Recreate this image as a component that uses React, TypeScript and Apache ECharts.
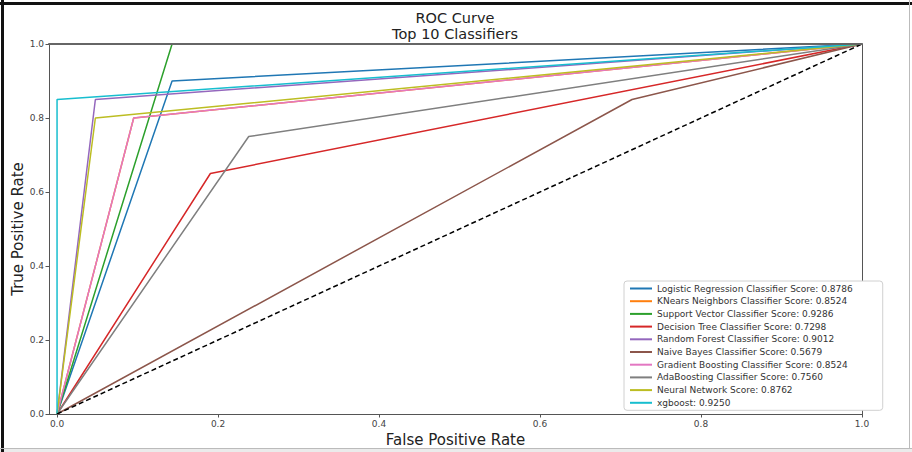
import React, { useEffect, useRef } from "react";
import * as echarts from "echarts";

const classifierNames = [
  "Logistic Regression Classifier Score: 0.8786",
  "KNears Neighbors Classifier Score: 0.8524",
  "Support Vector Classifier Score: 0.9286",
  "Decision Tree Classifier Score: 0.7298",
  "Random Forest Classifier Score: 0.9012",
  "Naive Bayes Classifier Score: 0.5679",
  "Gradient Boosting Classifier Score: 0.8524",
  "AdaBoosting Classifier Score: 0.7560",
  "Neural Network Score: 0.8762",
  "xgboost: 0.9250",
];

// False positive rates per classifier (ROC points)
const fprValues = [
  [0, 0.1429, 1],
  [0, 0.0952, 1],
  [0, 0.1429, 1],
  [0, 0.1905, 1],
  [0, 0.0476, 1],
  [0, 0.7143, 1],
  [0, 0.0952, 1],
  [0, 0.2381, 1],
  [0, 0.0476, 1],
  [0, 0.0, 1],
];

// True positive rates per classifier (ROC points)
const tprValues = [
  [0, 0.9, 1],
  [0, 0.8, 1],
  [0, 1.0, 1],
  [0, 0.65, 1],
  [0, 0.85, 1],
  [0, 0.85, 1],
  [0, 0.8, 1],
  [0, 0.75, 1],
  [0, 0.8, 1],
  [0, 0.85, 1],
];

const chanceX = [0, 1];
const chanceY = [0, 1];

const tickValues = [0, 0.2, 0.4, 0.6, 0.8, 1.0];

const titleLines = ["ROC Curve", "Top 10 Classifiers"];

const colors = [
  "#1f77b4",
  "#ff7f0e",
  "#2ca02c",
  "#d62728",
  "#9467bd",
  "#8c564b",
  "#e377c2",
  "#7f7f7f",
  "#bcbd22",
  "#17becf",
];

const FONT = "DejaVu Sans";
const SPINE = "#555";

export default function App() {
  const ref = useRef<HTMLDivElement>(null);

  useEffect(() => {
    if (!ref.current) return;
    const chart = echarts.init(ref.current, undefined, { renderer: "svg" });

    const series: any[] = classifierNames.map((name, i) => ({
      name,
      type: "line",
      data: fprValues[i].map((x, j) => [x, tprValues[i][j]]),
      showSymbol: false,
      symbol: "none",
      lineStyle: { color: colors[i], width: 1.5 },
      itemStyle: { color: colors[i] },
      z: 2 + i,
    }));
    series.push({
      name: "chance",
      type: "line",
      data: chanceX.map((x, j) => [x, chanceY[j]]),
      symbol: "none",
      lineStyle: { color: "#000", width: 1.5, type: [5, 3] },
      z: 20,
    });

    const labelStyle = {
      formatter: (v: number) => v.toFixed(1),
      fontFamily: FONT,
      fontSize: 9,
      color: "#444",
      margin: 5,
    };

    chart.setOption({
      animation: false,
      backgroundColor: "#fff",
      color: colors,
      title: titleLines.map((t, i) => ({
        text: t,
        left: 455,
        textAlign: "center",
        top: 10 + i * 16,
        textStyle: {
          fontFamily: FONT,
          fontSize: 14.5,
          lineHeight: 15,
          fontWeight: "normal",
          color: "#222",
        },
        padding: 0,
      })),
      grid: {
        left: 49,
        right: 50,
        top: 44,
        bottom: 38,
        show: false,
        containLabel: false,
        outerBoundsMode: "none",
      },
      legend: {
        data: classifierNames,
        orient: "vertical",
        left: 624,
        top: 281,
        width: 235,
        padding: [2, 30, 2, 6],
        itemGap: 1.7,
        itemWidth: 22,
        itemHeight: 2,
        icon: "rect",
        backgroundColor: "#fff",
        borderColor: "#d0d0d0",
        borderWidth: 1,
        borderRadius: 3,
        z: 60,
        textStyle: {
          fontFamily: FONT,
          fontSize: 9,
          lineHeight: 11,
          color: "#333",
        },
      },
      xAxis: [
        {
          type: "value",
          min: -0.01,
          max: 1,
          position: "bottom",
          z: 50,
          name: "False Positive Rate",
          nameLocation: "middle",
          nameGap: 15,
          nameTextStyle: { fontFamily: FONT, fontSize: 15, color: "#222" },
          axisLine: { show: true, onZero: false, lineStyle: { color: SPINE, width: 1 } },
          axisTick: {
            show: true,
            customValues: tickValues,
            length: 3.5,
            lineStyle: { color: SPINE },
          },
          axisLabel: { ...labelStyle, customValues: tickValues },
          splitLine: { show: false },
        },
        {
          type: "value",
          min: -0.01,
          max: 1,
          position: "top",
          z: 50,
          axisLine: { show: true, onZero: false, lineStyle: { color: "#666", width: 2 } },
          axisTick: { show: false },
          axisLabel: { show: false },
          splitLine: { show: false },
        },
      ],
      yAxis: [
        {
          type: "value",
          min: 0,
          max: 1,
          interval: 0.2,
          position: "left",
          z: 50,
          name: "True Positive Rate",
          nameLocation: "middle",
          nameGap: 24,
          nameMoveOverlap: false,
          nameTextStyle: { fontFamily: FONT, fontSize: 15, color: "#222" },
          axisLine: { show: true, onZero: false, lineStyle: { color: SPINE, width: 1 } },
          axisTick: { show: true, length: 3.5, lineStyle: { color: SPINE } },
          axisLabel: labelStyle,
          splitLine: { show: false },
        },
        {
          type: "value",
          min: 0,
          max: 1,
          interval: 0.2,
          position: "right",
          z: 50,
          axisLine: { show: true, onZero: false, lineStyle: { color: SPINE, width: 1 } },
          axisTick: { show: false },
          axisLabel: { show: false },
          splitLine: { show: false },
        },
      ],
      graphic: [
        { type: "rect", shape: { x: 0, y: 449, width: 912, height: 3 }, style: { fill: "#ebebeb" }, z: 100 },
        { type: "rect", shape: { x: 1, y: 0, width: 3, height: 452 }, style: { fill: "#111" }, z: 100 },
        { type: "rect", shape: { x: 0, y: 2, width: 912, height: 3 }, style: { fill: "#111" }, z: 100 },
        { type: "rect", shape: { x: 909, y: 0, width: 1, height: 449 }, style: { fill: "#bbb" }, z: 100 },
        { type: "rect", shape: { x: 0, y: 448, width: 912, height: 1 }, style: { fill: "#bbb" }, z: 100 },
      ],
      series,
    });

    return () => chart.dispose();
  }, []);

  return (
    <div
      ref={ref}
      style={{ position: "absolute", left: 0, top: 0, width: 912, height: 452 }}
    />
  );
}
